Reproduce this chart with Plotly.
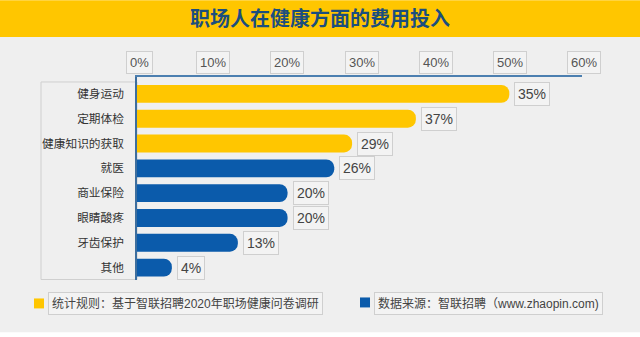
import plotly.graph_objects as go

# ---- data ----
categories = ["健身运动", "定期体检", "健康知识的获取", "就医", "商业保险", "眼睛酸疼", "牙齿保护", "其他"]
bar_values = [50.2, 37.6, 29.0, 26.6, 20.3, 20.3, 13.6, 4.7]
label_texts = ["35%", "37%", "29%", "26%", "20%", "20%", "13%", "4%"]
bar_groups = ["rule", "rule", "rule", "source", "source", "source", "source", "source"]
tick_values = [0, 10, 20, 30, 40, 50, 60]
tick_texts = ["0%", "10%", "20%", "30%", "40%", "50%", "60%"]
title_text = "职场人在健康方面的费用投入"
legend_texts = ["统计规则：基于智联招聘2020年职场健康问卷调研", "数据来源：智联招聘（www.zhaopin.com)"]

# ---- style ----
W, H = 640, 337
YELLOW = "#FFC600"
BLUE = "#0B5BAB"
BG = "#EFEFEF"
TITLE_BLUE = "#1B4E7E"
TEXT = "#444444"
BOX_BORDER = "#CFCFCF"
FONT = "Liberation Sans, Noto Sans CJK SC, sans-serif"
CJK = "Noto Sans CJK SC, sans-serif"

L, R = 137, 582          # plot area pixel x
T, B = 77, 280.5         # plot area pixel y
group_colors = {"rule": YELLOW, "source": BLUE}


def px(x):
    return (x - L) / (R - L)


def py(y):
    return (B - y) / (B - T)


fig = go.Figure()
fig.add_trace(go.Bar(
    y=categories, x=bar_values, orientation="h",
    marker=dict(color=[group_colors[g] for g in bar_groups], cornerradius="50%", line=dict(width=0)),
    width=0.72, hoverinfo="skip",
))

shapes = []
# backgrounds
shapes.append(dict(type="rect", xref="paper", yref="paper", x0=px(0), x1=px(W), y0=py(333), y1=py(37),
                   fillcolor=BG, line=dict(width=0), layer="below"))
shapes.append(dict(type="rect", xref="paper", yref="paper", x0=px(0), x1=px(W), y0=py(37), y1=py(0),
                   fillcolor=YELLOW, line=dict(width=0), layer="below"))
# category label frame
shapes.append(dict(type="rect", xref="paper", yref="paper", x0=px(41), x1=px(137), y0=py(280), y1=py(82),
                   fillcolor=BG, line=dict(color=BOX_BORDER, width=1), layer="below"))
# legend squares
shapes.append(dict(type="rect", xref="paper", yref="paper", x0=px(34), x1=px(44), y0=py(309), y1=py(299),
                   fillcolor=YELLOW, line=dict(width=0)))
shapes.append(dict(type="rect", xref="paper", yref="paper", x0=px(360), x1=px(370), y0=py(308), y1=py(298),
                   fillcolor=BLUE, line=dict(width=0)))

annotations = []
# tick labels in boxes
for v, t in zip(tick_values, tick_texts):
    annotations.append(dict(x=v, xref="x", y=py(62.5), yref="paper", text=t, showarrow=False,
                            xanchor="center", yanchor="middle", xshift=2,
                            font=dict(family=FONT, size=13, color="#555555"),
                            bordercolor=BOX_BORDER, borderwidth=1, borderpad=3, bgcolor="#F3F3F3"))
# data labels in boxes
for c, v, t in zip(categories, bar_values, label_texts):
    annotations.append(dict(x=v, xref="x", y=c, yref="y", text=t, showarrow=False,
                            xanchor="left", yanchor="middle", xshift=5,
                            font=dict(family=FONT, size=14, color=TEXT),
                            bordercolor=BOX_BORDER, borderwidth=1, borderpad=3, bgcolor="#F3F3F3"))
# legend texts
annotations.append(dict(x=px(48), xref="paper", y=py(304), yref="paper", text=legend_texts[0], showarrow=False,
                        xanchor="left", yanchor="middle",
                        font=dict(family=FONT, size=12, color=TEXT),
                        bordercolor=BOX_BORDER, borderwidth=1, borderpad=3, bgcolor="#F3F3F3"))
annotations.append(dict(x=px(374), xref="paper", y=py(304), yref="paper", text=legend_texts[1], showarrow=False,
                        xanchor="left", yanchor="middle",
                        font=dict(family=FONT, size=12, color=TEXT),
                        bordercolor=BOX_BORDER, borderwidth=1, borderpad=3, bgcolor="#F3F3F3"))

fig.update_layout(
    width=W, height=H,
    margin=dict(l=L, r=W - R, t=T, b=H - B, pad=0),
    paper_bgcolor="white", plot_bgcolor=BG,
    showlegend=False,
    title=dict(text="<b>" + title_text + "</b>", x=0.5, xref="container", xanchor="center",
               y=1 - 19 / H, yref="container", yanchor="middle",
               font=dict(family=CJK, size=20, color=TITLE_BLUE)),
    xaxis=dict(range=[0, 60], side="top", showticklabels=False, showgrid=False, zeroline=False,
               showline=True, linecolor="#4C7FB0", linewidth=2, ticks="", fixedrange=True),
    yaxis=dict(range=[7.5, -0.68], showgrid=False, zeroline=False, showline=True, linecolor="#3D6E9E",
               linewidth=1.5, ticks="", ticklabelstandoff=9,
               tickfont=dict(family=CJK, size=11.7, color="#333333"), fixedrange=True),
    shapes=shapes, annotations=annotations,
    bargap=0.28,
)

fig.write_html("out.html")
